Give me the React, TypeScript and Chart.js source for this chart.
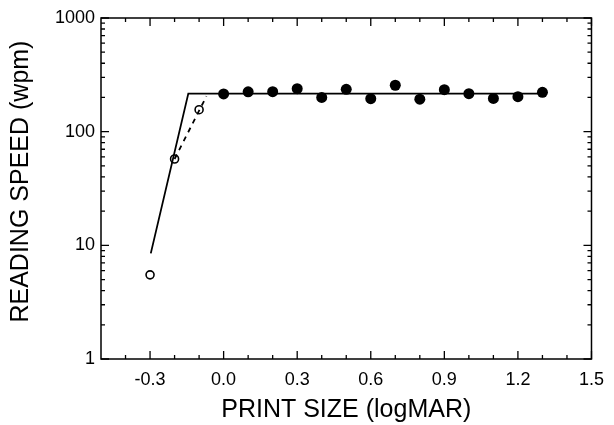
import React, { useEffect, useRef } from "react";
import { Chart, registerables } from "chart.js";

Chart.register(...registerables);

// ---- data ----
const openX = [-0.3, -0.2, -0.1];
const openY = [5.5, 57.5, 156];

const filledX = [0.0, 0.1, 0.2, 0.3, 0.4, 0.5, 0.6, 0.7, 0.8, 0.9, 1.0, 1.1, 1.2, 1.3];
const filledY = [215, 224, 225, 239, 200, 236, 195, 256, 193, 234, 216, 196, 203, 222];

const fitX = [-0.297, -0.144, 1.3];
const fitY = [8.5, 216, 216];

const dashX = [-0.2, -0.07];
const dashY = [57.5, 205];

const xTickLabels = [-0.3, 0.0, 0.3, 0.6, 0.9, 1.2, 1.5];
const xMinorTicks = [-0.4, -0.2, -0.1, 0.1, 0.2, 0.4, 0.5, 0.7, 0.8, 1.0, 1.1, 1.3, 1.4];
const yTickLabels = [1, 10, 100, 1000];
const yMinorTicks = [2, 3, 4, 5, 6, 7, 8, 9, 20, 30, 40, 50, 60, 70, 80, 90, 200, 300, 400, 500, 600, 700, 800, 900];

const FONT = "'Liberation Sans', Arial, Helvetica, sans-serif";

const pts = (xs: number[], ys: number[]) => xs.map((x, i) => ({ x, y: ys[i] }));

const frameTicks = {
  id: "frameTicks",
  afterDatasetsDraw(chart: any) {
    const { ctx, chartArea: a, scales } = chart;
    const xs = scales.x;
    const ys = scales.y;
    ctx.save();
    ctx.strokeStyle = "#000";
    ctx.lineWidth = 1.5;
    ctx.strokeRect(a.left, a.top, a.right - a.left, a.bottom - a.top);
    ctx.lineWidth = 1.3;
    const vTick = (v: number, len: number) => {
      const px = xs.getPixelForValue(v);
      ctx.beginPath();
      ctx.moveTo(px, a.bottom);
      ctx.lineTo(px, a.bottom - len);
      ctx.moveTo(px, a.top);
      ctx.lineTo(px, a.top + len);
      ctx.stroke();
    };
    const hTick = (v: number, len: number) => {
      const py = ys.getPixelForValue(v);
      ctx.beginPath();
      ctx.moveTo(a.left, py);
      ctx.lineTo(a.left + len, py);
      ctx.moveTo(a.right, py);
      ctx.lineTo(a.right - len, py);
      ctx.stroke();
    };
    xTickLabels.forEach((v) => vTick(v, 8));
    xMinorTicks.forEach((v) => vTick(v, 4));
    yTickLabels.forEach((v) => hTick(v, 8));
    yMinorTicks.forEach((v) => hTick(v, 4));
    ctx.restore();
  },
};

export default function App() {
  const ref = useRef<HTMLCanvasElement | null>(null);

  useEffect(() => {
    if (!ref.current) return;
    const chart = new Chart(ref.current, {
      type: "scatter",
      data: {
        datasets: [
          {
            type: "line",
            data: pts(fitX, fitY),
            borderColor: "#000",
            borderWidth: 1.8,
            pointRadius: 0,
            fill: false,
            tension: 0,
          } as any,
          {
            type: "line",
            data: pts(dashX, dashY),
            borderColor: "#000",
            borderWidth: 1.8,
            borderDash: [5, 5],
            pointRadius: 0,
            fill: false,
            tension: 0,
          } as any,
          {
            data: pts(openX, openY),
            pointRadius: 4,
            pointBackgroundColor: "#fff",
            pointBorderColor: "#000",
            pointBorderWidth: 1.6,
          },
          {
            data: pts(filledX, filledY),
            pointRadius: 5.5,
            pointBackgroundColor: "#000",
            pointBorderColor: "#000",
            pointBorderWidth: 0,
          },
        ],
      },
      options: {
        animation: false,
        responsive: false,
        maintainAspectRatio: false,
        layout: { padding: { left: 0, right: 14, top: 18, bottom: 0 } },
        plugins: { legend: { display: false }, tooltip: { enabled: false } },
        scales: {
          x: {
            type: "linear",
            min: -0.5,
            max: 1.5,
            grid: { display: false, drawTicks: false },
            border: { display: false },
            afterBuildTicks: (s: any) => {
              s.ticks = xTickLabels.map((v) => ({ value: v }));
            },
            afterFit: (s: any) => {
              s.height = 66;
            },
            ticks: {
              color: "#000",
              padding: 10,
              font: { family: FONT, size: 18 },
              maxRotation: 0,
              autoSkip: false,
              callback: (v: any) => Number(v).toFixed(1),
            },
            title: {
              display: true,
              text: "PRINT SIZE (logMAR)",
              color: "#000",
              font: { family: FONT, size: 25 },
              padding: { top: 0, bottom: 0 },
            },
          },
          y: {
            type: "logarithmic",
            min: 1,
            max: 1000,
            grid: { display: false, drawTicks: false },
            border: { display: false },
            afterBuildTicks: (s: any) => {
              s.ticks = yTickLabels.map((v) => ({ value: v }));
            },
            afterFit: (s: any) => {
              s.width = 101;
            },
            ticks: {
              color: "#000",
              padding: 6,
              font: { family: FONT, size: 18 },
              autoSkip: false,
              callback: (v: any) => String(v),
            },
            title: {
              display: true,
              text: "  READING SPEED (wpm)",
              color: "#000",
              font: { family: FONT, size: 25 },
              padding: { top: 6, bottom: 0 },
            },
          },
        },
      },
      plugins: [frameTicks],
    });
    return () => chart.destroy();
  }, []);

  return (
    <div style={{ position: "fixed", left: 0, top: 0, width: 614, height: 425, background: "#fff" }}>
      <canvas ref={ref} width={614} height={425} style={{ display: "block", width: 614, height: 425 }} />
    </div>
  );
}
